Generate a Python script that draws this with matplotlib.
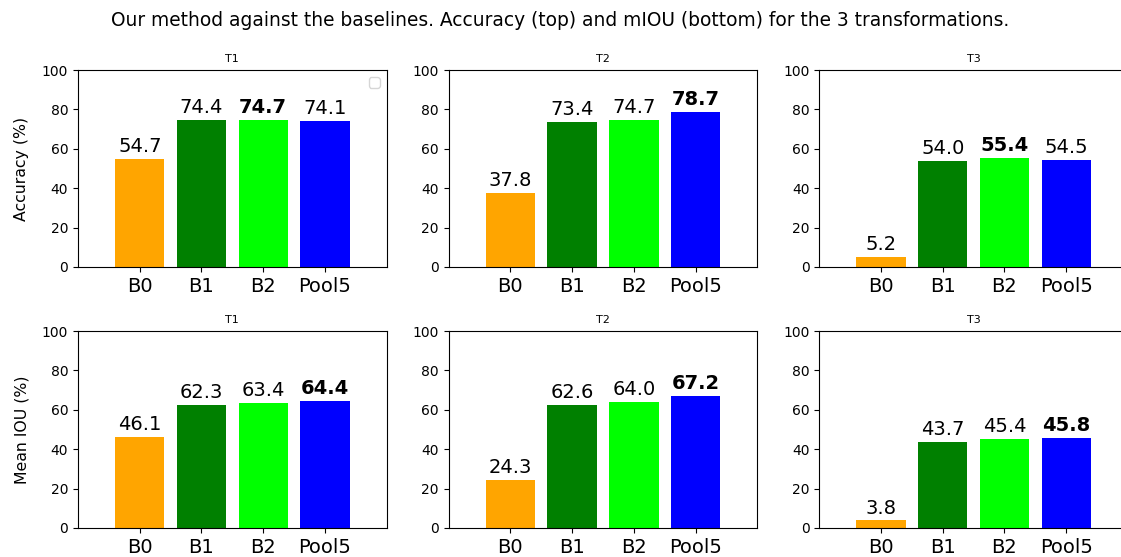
import matplotlib
matplotlib.use("Agg")
import matplotlib.pyplot as plt
import numpy as np

methods = ["B0", "B1", "B2", "Pool5"]
colors = ["orange", "green", "lime", "blue"]
transforms = ["T1", "T2", "T3"]

accuracy = [
    [54.7, 74.4, 74.7, 74.1],
    [37.8, 73.4, 74.7, 78.7],
    [5.2, 54.0, 55.4, 54.5],
]
miou = [
    [46.1, 62.3, 63.4, 64.4],
    [24.3, 62.6, 64.0, 67.2],
    [3.8, 43.7, 45.4, 45.8],
]
ylabels = ["Accuracy (%)", "Mean IOU (%)"]

fig, axes = plt.subplots(2, 3, figsize=(11.21, 5.57), dpi=100)
fig.subplots_adjust(left=0.0696, right=1.0062, top=0.8743, bottom=0.0521,
                    wspace=0.2006, hspace=0.325)

x = np.arange(1, len(methods) + 1)
for row, data in enumerate([accuracy, miou]):
    for col, vals in enumerate(data):
        ax = axes[row, col]
        bars = ax.bar(x, vals, color=colors, width=0.8)
        best = int(np.argmax(vals))
        # value on top of each bar, best one in bold
        for i, (b, v) in enumerate(zip(bars, vals)):
            ax.text(b.get_x() + b.get_width() / 2, v + 1.5, f"{v:.1f}",
                    ha="center", va="bottom", fontsize=14,
                    fontweight="bold" if i == best else "normal")
        ax.set_xticks(x)
        ax.set_xticklabels(methods, fontsize=14)
        ax.set_xlim(0, 5)
        ax.set_ylim(0, 100)
        ax.set_title(transforms[col], fontsize=8)
        if col == 0:
            ax.set_ylabel(ylabels[row], fontsize=11.3, labelpad=9)

axes[0, 0].legend()

fig.suptitle("Our method against the baselines. Accuracy (top) and mIOU (bottom) for the 3 transformations.",
             fontsize=13.4, y=1 - 20 / 557, va="center")

fig.savefig("out.png", dpi=100)
